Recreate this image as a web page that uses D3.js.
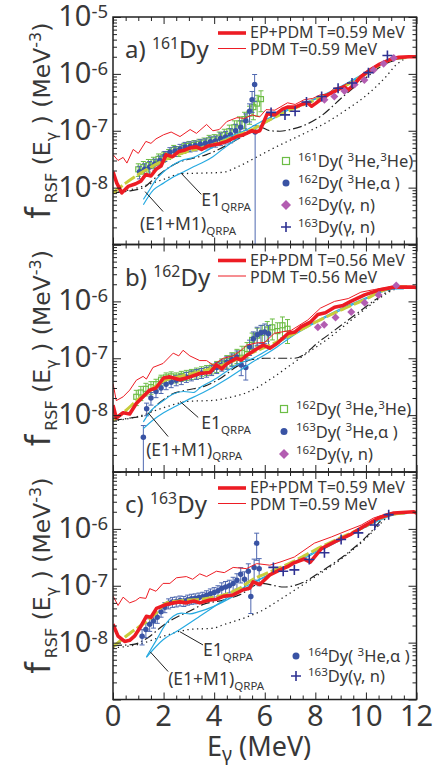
<!DOCTYPE html>
<html>
<head>
<meta charset="utf-8">
<script src="https://cdn.jsdelivr.net/npm/d3@7"></script>
<style>
  body { margin: 0; background: #fff; }
  text { font-family: "Noto Sans", "Open Sans", sans-serif; fill: #383838; }
  text.ytitle { font-family: "DejaVu Sans", sans-serif; }
</style>
</head>
<body>
<script>
// ---- panel a) 161Dy, [E (MeV), f (MeV^-3)] ----
let epA = [[0,1.9e-8],[0.15,1.2e-8],[0.35,8.1e-9],[0.6,1.05e-8],[0.9,1.17e-8],[1.1,1.3e-8],[1.3,1.7e-8],[1.5,1.6e-8],[1.7,2.1e-8],[1.9,2.4e-8],[2.1,3.8e-8],[2.35,3.5e-8],[2.6,4.3e-8],[2.85,4.6e-8],[3.05,5.0e-8],[3.3,5.2e-8],[3.5,4.7e-8],[3.75,5.4e-8],[3.95,5.6e-8],[4.2,5.9e-8],[4.5,6.5e-8],[4.7,7.2e-8],[4.9,7.9e-8],[5.1,8.3e-8],[5.3,9.1e-8],[5.5,1.0e-7],[5.65,9.5e-8],[5.8,1.0e-7],[5.95,1.4e-7],[6.1,2.0e-7],[6.4,1.9e-7],[6.7,2.4e-7],[6.9,2.6e-7],[7.2,2.6e-7],[7.5,2.95e-7],[7.7,3.1e-7],[7.85,2.7e-7],[8.0,3.0e-7],[8.2,3.5e-7],[8.5,4.3e-7],[8.8,5.0e-7],[9.0,5.6e-7],[9.15,5.9e-7],[9.3,5.2e-7],[9.5,6.3e-7],[9.8,8.9e-7],[10.1,1.12e-6],[10.5,1.45e-6],[10.8,1.66e-6],[11.0,1.82e-6],[11.3,1.95e-6],[11.7,2.0e-6],[12,2.0e-6]]
let pdmA = [[0,3.8e-8],[0.2,3.0e-8],[0.4,3.4e-8],[0.55,2.7e-8],[0.8,4.7e-8],[1.0,4.0e-8],[1.3,6.5e-8],[1.5,6.0e-8],[1.7,7.2e-8],[2.0,8.5e-8],[2.3,9.5e-8],[2.65,7.9e-8],[3.05,1.05e-7],[3.3,9.0e-8],[3.7,1.29e-7],[3.95,1.0e-7],[4.2,1.05e-7],[4.5,1.45e-7],[4.9,1.7e-7],[5.2,1.65e-7],[5.5,1.9e-7],[5.8,1.75e-7],[6.05,2.35e-7],[6.4,2.3e-7],[6.9,3.1e-7],[7.2,2.9e-7],[7.55,3.5e-7],[7.9,3.7e-7],[8.2,4.3e-7],[8.5,4.4e-7],[8.75,5.6e-7],[9.0,5.9e-7],[9.3,6.9e-7],[9.55,7.2e-7],[9.8,9.5e-7],[10.2,1.25e-6],[10.5,1.5e-6],[11.0,1.85e-6],[11.5,2.0e-6],[12,2.0e-6]]
let e1m1A = [[1.2,6.2e-9],[1.4,8.5e-9],[1.7,1.38e-8],[2.0,1.9e-8],[2.25,2.3e-8],[2.5,2.7e-8],[2.8,3.1e-8],[3.1,3.3e-8],[3.55,4.1e-8],[3.9,5.0e-8],[4.35,6.9e-8],[4.8,8.5e-8],[5.3,1.05e-7],[5.8,1.4e-7],[6.2,1.7e-7],[7.0,2.5e-7],[8.0,3.7e-7],[9.0,6.0e-7],[10.0,1.07e-6],[10.5,1.45e-6],[11.0,1.78e-6],[11.5,1.9e-6]]
let e1A = [[1.2,5.0e-9],[1.6,9.1e-9],[2.0,1.2e-8],[2.4,1.55e-8],[2.8,1.9e-8],[3.2,2.35e-8],[3.6,2.85e-8],[3.95,3.5e-8],[4.35,4.8e-8],[4.75,6.5e-8],[5.15,8.5e-8],[5.55,1.05e-7],[6.0,1.35e-7],[6.5,1.8e-7],[7.0,2.4e-7],[8.0,3.6e-7],[9.0,5.8e-7],[10.0,1.02e-6],[10.5,1.4e-6],[11.0,1.72e-6],[11.5,1.88e-6]]
let fitA = [[0,8.1e-9],[0.5,1.2e-8],[1.0,1.7e-8],[1.5,2.3e-8],[2.0,3.0e-8],[2.5,3.7e-8],[3.0,4.4e-8],[3.5,5.0e-8],[4.0,5.8e-8],[4.5,7.0e-8],[5.0,8.5e-8],[5.5,1.05e-7],[6.0,1.4e-7],[7.0,2.3e-7],[8.0,3.5e-7],[9.0,5.6e-7],[10.0,1.0e-6],[10.5,1.4e-6],[11.0,1.8e-6],[11.6,1.95e-6]]
let dashA = [[0,8.1e-9],[0.6,8.7e-9],[1.2,1.0e-8],[1.6,1.4e-8],[2.1,2.1e-8],[2.6,2.8e-8],[3.05,3.2e-8],[3.7,3.8e-8],[4.3,5.0e-8],[4.9,7.0e-8],[5.4,9.3e-8],[5.8,1.17e-7],[6.2,1.0e-7],[6.6,9.8e-8],[7.0,1.05e-7],[7.4,1.17e-7],[8.2,1.78e-7],[9.1,4.0e-7],[10.05,8.9e-7],[10.7,1.45e-6],[11.1,1.7e-6]]
let dotA = [[0,7.9e-9],[1.0,1.0e-8],[2.0,1.4e-8],[2.7,1.75e-8],[3.5,1.8e-8],[4.3,1.85e-8],[5.0,2.4e-8],[5.6,3.3e-8],[6.25,4.7e-8],[6.9,6.5e-8],[7.5,8.7e-8],[8.5,1.45e-7],[9.2,2.3e-7],[10.1,4.5e-7],[10.8,9.0e-7],[11.2,1.45e-6],[11.5,1.8e-6]]
// [E, f, relative error (up), relative error (down, optional)]
let he3A = [[1.0,2.1e-8,0.25],[1.2,2.3e-8,0.25],[1.4,2.5e-8,0.25],[1.6,2.8e-8,0.22],[1.8,3.2e-8,0.22],[2.0,3.5e-8,0.2],[2.2,3.9e-8,0.2],[2.4,4.6e-8,0.2],[2.6,4.4e-8,0.2],[2.8,5.0e-8,0.2],[3.0,5.4e-8,0.2],[3.2,5.6e-8,0.2],[3.4,5.9e-8,0.2],[3.6,6.2e-8,0.2],[3.8,6.8e-8,0.22],[4.0,7.0e-8,0.22],[4.2,7.6e-8,0.25],[4.4,8.5e-8,0.25],[4.6,9.8e-8,0.28],[4.8,1.15e-7,0.3],[5.0,1.35e-7,0.3],[5.2,1.6e-7,0.32],[5.4,2.0e-7,0.35],[5.55,2.6e-7,0.4],[5.7,3.0e-7,0.4],[5.85,3.6e-7,0.4]]
let alphaA = [[1.05,1.9e-8,0.25],[1.25,2.1e-8,0.25],[1.45,2.3e-8,0.25],[1.65,2.6e-8,0.22],[1.85,3.0e-8,0.2],[2.05,3.6e-8,0.2],[2.25,4.2e-8,0.2],[2.45,4.4e-8,0.2],[2.65,4.8e-8,0.2],[2.85,5.2e-8,0.2],[3.05,5.3e-8,0.2],[3.25,5.5e-8,0.2],[3.45,5.8e-8,0.2],[3.65,6.0e-8,0.2],[3.85,6.4e-8,0.22],[4.05,6.6e-8,0.22],[4.25,7.3e-8,0.25],[4.45,7.8e-8,0.25],[4.65,8.5e-8,0.28],[4.85,1.0e-7,0.3],[5.05,1.15e-7,0.3],[5.25,1.5e-7,0.32],[5.4,2.2e-7,0.35],[5.5,3.5e-7,0.4],[5.6,6.5e-7,0.5],[5.62,9.5e-8,0.3,1.0]]
let gn162A = [[8.36,3.5e-7],[8.75,4.0e-7],[9.15,5.0e-7],[9.55,6.5e-7],[9.94,7.8e-7],[10.3,1.17e-6],[10.7,1.5e-6],[11.1,1.9e-6]]
let gn163A = [[6.25,2.1e-7],[6.8,1.9e-7],[7.2,2.2e-7],[7.65,3.2e-7],[8.25,4.0e-7],[8.9,5.6e-7],[9.45,6.9e-7],[10.1,1.05e-6],[10.85,2.1e-6]]

// ---- panel b) 162Dy ----
let epB = [[0,1.5e-8],[0.13,8.9e-9],[0.4,1.1e-8],[0.66,1.05e-8],[0.92,1.6e-8],[1.19,2.1e-8],[1.45,2.75e-8],[1.7,3.0e-8],[2.0,4.5e-8],[2.25,4.7e-8],[2.64,4.2e-8],[3.04,4.7e-8],[3.43,5.4e-8],[3.83,5.6e-8],[4.09,7.6e-8],[4.3,6.5e-8],[4.49,7.9e-8],[4.88,1.0e-7],[5.07,9.3e-8],[5.28,1.12e-7],[5.6,1.38e-7],[5.94,1.7e-7],[6.2,1.5e-7],[6.47,1.8e-7],[6.93,2.75e-7],[7.2,2.9e-7],[7.45,3.6e-7],[7.8,4.3e-7],[8.1,5.9e-7],[8.4,6.3e-7],[8.76,7.9e-7],[9.1,8.5e-7],[9.4,1.0e-6],[9.95,1.3e-6],[10.5,1.58e-6],[11.1,1.78e-6],[11.9,1.78e-6],[12,1.75e-6]]
let pdmB = [[0,3.6e-8],[0.13,1.8e-8],[0.4,2.1e-8],[0.66,2.75e-8],[0.92,4.1e-8],[1.19,4.8e-8],[1.32,4.3e-8],[1.58,6.9e-8],[1.98,8.1e-8],[2.38,1.23e-7],[2.6,1.1e-7],[2.77,1.38e-7],[3.04,1.1e-7],[3.43,9.1e-8],[3.7,9.1e-8],[3.96,7.6e-8],[4.36,1.0e-7],[4.75,1.1e-7],[5.07,1.38e-7],[5.28,1.7e-7],[5.68,1.86e-7],[6.0,1.9e-7],[6.38,2.75e-7],[7.05,3.1e-7],[7.7,4.7e-7],[8.2,7.6e-7],[8.76,1.0e-6],[9.3,1.12e-6],[9.8,1.45e-6],[10.35,1.62e-6],[11.0,1.8e-6],[12,1.75e-6]]
let e1m1B = [[1.2,7.6e-9],[1.5,1.2e-8],[2.0,1.8e-8],[2.38,2.35e-8],[2.8,2.6e-8],[3.17,2.5e-8],[3.5,3.2e-8],[3.96,4.1e-8],[4.5,5.9e-8],[5.0,8.1e-8],[5.54,1.0e-7],[6.0,1.3e-7],[6.5,1.8e-7],[7.0,2.5e-7],[8.0,4.4e-7],[9.0,7.4e-7],[10.0,1.15e-6],[10.6,1.5e-6],[11.2,1.7e-6],[11.5,1.7e-6]]
let e1B = [[1.2,5.8e-9],[1.6,8.3e-9],[2.0,1.1e-8],[2.5,1.45e-8],[2.9,1.8e-8],[3.4,2.3e-8],[3.96,3.1e-8],[4.5,4.3e-8],[5.0,6.0e-8],[5.5,8.5e-8],[6.07,1.2e-7],[6.5,1.6e-7],[7.0,2.3e-7],[8.0,4.2e-7],[9.0,7.0e-7],[10.0,1.1e-6],[10.6,1.45e-6],[11.2,1.65e-6],[11.5,1.65e-6]]
let fitB = [[0,8.1e-9],[0.5,1.2e-8],[1.0,1.9e-8],[1.5,2.8e-8],[2.0,4.0e-8],[2.5,4.6e-8],[3.0,5.2e-8],[3.5,5.9e-8],[4.0,6.8e-8],[4.5,8.1e-8],[5.0,1.0e-7],[5.5,1.25e-7],[6.0,1.55e-7],[7.0,2.5e-7],[8.0,4.3e-7],[9.0,7.0e-7],[10.0,1.1e-6],[10.6,1.5e-6],[11.2,1.8e-6],[11.7,1.8e-6]]
let dashB = [[0,8.1e-9],[0.7,8.9e-9],[1.3,1.0e-8],[1.8,1.6e-8],[2.3,2.3e-8],[2.9,2.75e-8],[3.6,3.2e-8],[4.3,4.6e-8],[4.9,7.2e-8],[5.5,9.5e-8],[6.0,1.0e-7],[6.5,1.0e-7],[7.17,1.0e-7],[8.24,2.1e-7],[9.43,5.2e-7],[10.5,1.17e-6],[11.1,1.75e-6]]
let dotB = [[0,7.9e-9],[1.0,9.5e-9],[2.0,1.35e-8],[3.0,1.75e-8],[4.0,1.82e-8],[4.5,2.0e-8],[5.3,2.5e-8],[6.3,4.5e-8],[7.0,7.5e-8],[7.7,1.25e-7],[8.5,2.2e-7],[9.4,4.6e-7],[10.3,9.5e-7],[10.9,1.45e-6],[11.3,1.75e-6]]
let he3B = [[0.92,2.1e-8,0.3],[1.1,2.5e-8,0.28],[1.3,2.9e-8,0.25],[1.5,3.1e-8,0.25],[1.7,3.5e-8,0.22],[1.9,4.2e-8,0.2],[2.1,4.6e-8,0.2],[2.3,4.8e-8,0.2],[2.5,4.6e-8,0.2],[2.7,4.9e-8,0.2],[2.9,5.1e-8,0.2],[3.1,5.3e-8,0.2],[3.3,5.6e-8,0.2],[3.5,5.9e-8,0.2],[3.7,6.2e-8,0.2],[3.9,6.6e-8,0.2],[4.1,7.2e-8,0.22],[4.3,8.0e-8,0.22],[4.5,8.9e-8,0.25],[4.7,1.0e-7,0.25],[4.9,1.12e-7,0.28],[5.1,1.25e-7,0.3],[5.3,1.45e-7,0.3],[5.5,2.1e-7,0.32],[5.7,2.5e-7,0.35],[5.9,2.8e-7,0.35],[6.1,3.2e-7,0.38],[6.3,3.5e-7,0.4],[6.5,3.0e-7,0.4],[6.7,3.8e-7,0.4],[6.9,3.3e-7,0.45]]
let alphaB = [[1.2,4.1e-9,0.6,1.0],[1.33,1.3e-8,0.25],[1.5,2.0e-8,0.25],[1.7,2.6e-8,0.22],[1.9,3.0e-8,0.2],[2.1,3.5e-8,0.2],[2.3,3.8e-8,0.2],[2.5,4.1e-8,0.2],[2.7,4.3e-8,0.2],[2.9,4.7e-8,0.2],[3.1,5.0e-8,0.2],[3.3,5.3e-8,0.2],[3.5,5.5e-8,0.2],[3.7,5.8e-8,0.2],[3.9,6.2e-8,0.2],[4.1,6.9e-8,0.22],[4.3,7.6e-8,0.22],[4.5,8.5e-8,0.25],[4.7,9.5e-8,0.25],[4.9,1.05e-7,0.28],[5.07,7.6e-8,0.35],[5.25,6.9e-8,0.4],[5.4,1.6e-7,0.3],[5.55,2.2e-7,0.32],[5.7,2.6e-7,0.35],[5.85,2.8e-7,0.35],[6.0,2.9e-7,0.38],[6.15,2.7e-7,0.4]]
let gn162B = [[8.1,3.5e-7],[8.35,3.9e-7],[8.8,5.2e-7],[9.42,6.5e-7],[9.95,9.5e-7],[10.5,1.3e-6],[11.2,1.9e-6]]

// ---- panel c) 163Dy ----
let epC = [[0,2.1e-8],[0.2,1.3e-8],[0.46,1.05e-8],[0.66,1.1e-8],[0.85,1.3e-8],[1.06,1.8e-8],[1.32,2.9e-8],[1.5,2.8e-8],[1.72,4.0e-8],[2.11,4.7e-8],[2.4,5.0e-8],[2.64,5.2e-8],[2.9,5.0e-8],[3.2,5.4e-8],[3.43,5.0e-8],[3.83,5.6e-8],[4.1,5.8e-8],[4.36,6.5e-8],[4.75,6.9e-8],[5.15,8.5e-8],[5.4,9.0e-8],[5.54,1.17e-7],[5.8,1.05e-7],[6.2,1.55e-7],[6.6,1.9e-7],[6.93,2.2e-7],[7.13,2.5e-7],[7.56,2.95e-7],[7.8,2.6e-7],[8.24,4.5e-7],[8.76,5.9e-7],[9.42,8.1e-7],[9.94,1.12e-6],[10.5,1.55e-6],[11.1,1.9e-6],[11.9,2.0e-6],[12,1.9e-6]]
let pdmC = [[0,6.6e-8],[0.2,4.5e-8],[0.4,6.3e-8],[0.66,5.0e-8],[0.9,5.5e-8],[1.06,6.2e-8],[1.3,6.0e-8],[1.45,8.9e-8],[1.7,8.0e-8],[1.98,1.1e-7],[2.25,1.1e-7],[2.51,1.38e-7],[2.9,1.45e-7],[3.15,1.3e-7],[3.43,1.62e-7],[3.7,1.45e-7],[4.09,1.8e-7],[4.4,1.7e-7],[4.75,2.1e-7],[5.28,2.0e-7],[5.68,2.45e-7],[6.2,2.3e-7],[6.6,2.6e-7],[7.17,3.2e-7],[7.96,5.6e-7],[8.63,7.2e-7],[9.3,9.5e-7],[9.82,1.17e-6],[10.3,1.55e-6],[10.9,1.9e-6],[11.5,2.0e-6],[12,1.95e-6]]
let e1m1C = [[1.32,5.6e-9],[1.72,1.12e-8],[2.11,2.2e-8],[2.38,2.9e-8],[2.7,3.3e-8],[3.04,3.2e-8],[3.4,3.5e-8],[3.96,4.3e-8],[4.75,6.5e-8],[5.54,1.1e-7],[6.2,1.6e-7],[7.0,2.4e-7],[8.0,4.0e-7],[9.0,6.5e-7],[10.0,1.1e-6],[10.6,1.5e-6],[11.2,1.85e-6],[11.6,1.9e-6]]
let e1C = [[1.32,5.5e-9],[1.98,1.12e-8],[2.64,1.7e-8],[3.43,2.9e-8],[4.22,5.0e-8],[5.0,8.5e-8],[5.8,1.3e-7],[6.86,2.1e-7],[8.0,3.8e-7],[9.0,6.3e-7],[10.0,1.08e-6],[10.6,1.45e-6],[11.2,1.8e-6],[11.6,1.85e-6]]
let fitC = [[0,8.5e-9],[0.66,1.45e-8],[1.32,2.35e-8],[1.7,3.3e-8],[2.11,5.0e-8],[2.6,5.4e-8],[3.0,5.6e-8],[3.5,5.8e-8],[4.0,6.3e-8],[4.5,7.2e-8],[5.0,9.0e-8],[5.54,1.3e-7],[6.0,1.6e-7],[7.0,2.5e-7],[8.3,5.0e-7],[9.0,7.0e-7],[10.0,1.12e-6],[10.5,1.5e-6],[11.0,1.78e-6],[11.6,1.9e-6]]
let dashC = [[0,8.9e-9],[0.8,9.3e-9],[1.32,1.17e-8],[1.98,2.0e-8],[2.38,2.6e-8],[3.04,3.6e-8],[3.56,4.7e-8],[4.36,5.6e-8],[5.0,6.9e-8],[5.86,1.1e-7],[6.77,9.5e-8],[7.56,1.17e-7],[8.24,1.8e-7],[9.15,3.4e-7],[10.1,7.9e-7],[10.7,1.55e-6],[11.0,1.9e-6]]
let dotC = [[0,8.1e-9],[1.0,9.3e-9],[2.0,1.3e-8],[3.0,1.7e-8],[4.0,1.8e-8],[4.28,2.0e-8],[5.07,2.6e-8],[5.86,3.6e-8],[6.65,5.9e-8],[7.45,1.0e-7],[8.24,1.7e-7],[9.0,2.9e-7],[10.0,6.8e-7],[10.7,1.4e-6],[11.0,1.85e-6]]
let alphaC = [[1.15,1.3e-8,0.3],[1.3,1.7e-8,0.28],[1.45,2.1e-8,0.25],[1.6,2.4e-8,0.25],[1.75,2.8e-8,0.22],[1.9,3.5e-8,0.2],[2.05,4.2e-8,0.2],[2.2,4.9e-8,0.2],[2.35,5.2e-8,0.2],[2.5,5.3e-8,0.2],[2.65,5.5e-8,0.2],[2.8,5.4e-8,0.2],[2.95,5.7e-8,0.2],[3.1,5.9e-8,0.2],[3.25,6.0e-8,0.2],[3.4,6.2e-8,0.2],[3.55,6.4e-8,0.2],[3.7,6.8e-8,0.2],[3.85,7.2e-8,0.22],[4.0,7.6e-8,0.22],[4.15,8.2e-8,0.22],[4.3,9.0e-8,0.25],[4.45,9.5e-8,0.25],[4.6,1.0e-7,0.25],[4.75,1.1e-7,0.28],[4.9,1.25e-7,0.3],[5.05,1.6e-7,0.3],[5.2,1.3e-7,0.35],[5.35,1.8e-7,0.35],[5.45,6.5e-8,0.5],[5.58,2.1e-7,0.4],[5.68,5.6e-7,0.5],[5.78,2.0e-7,0.5]]
let gn163C = [[6.34,2.1e-7],[6.73,1.8e-7],[7.17,1.9e-7],[7.76,2.9e-7],[8.36,3.8e-7],[9.02,6.5e-7],[9.7,8.5e-7],[10.35,1.17e-6],[10.9,1.78e-6]]

// tick labels
let xTickLabels = [0, 2, 4, 6, 8, 10, 12]
let yTickLabelsA = [1e-5, 1e-6, 1e-7, 1e-8]
let yTickLabelsBC = [1e-6, 1e-7, 1e-8]

let width = 442
let height = 767
let x0 = 113
let x1 = 416.5
let panelH = 227.5

let red = '#ed1c24'
let cyan = '#27aae1'
let olive = '#c8cc3c'
let green = '#6cbd45'
let blue = '#3953a4'
let magenta = '#b35db1'
let navy = '#2e3192'

let xScale = d3.scaleLinear().domain([0, 12]).range([x0, x1])

let svg = d3.select('body').append('svg')
    .attr('width', width)
    .attr('height', height)

// text with super/subscripts: parts = [[text, 'n' | 'sup' | 'sub' | 'big']]
let richText = (t, parts, size, o = {}) => {
    let ratio = o.ratio || 0.68
    let up = o.up || -0.4
    let down = o.down || 0.28
    let shift = 0
    parts.forEach(([s, k, dx]) => {
        let target = k === 'sup' ? up * size : k === 'sub' ? down * size : 0
        let fs = k === 'sup' || k === 'sub' ? size * ratio : k === 'big' ? size * 1.4 : size
        t.append('tspan')
            .attr('dx', dx || null)
            .attr('dy', target - shift)
            .style('font-size', fs + 'px')
            .text(s)
        shift = target
    })
    return t
}

let isoParts = (mass, rest) => [[mass, 'sup'], ['Dy(', 'n']].concat(rest)

let legend3He = m => isoParts(m, [[' ', 'n'], ['3', 'sup'], ['He,', 'n'], ['3', 'sup'], ['He)', 'n']])
let legendAlpha = m => isoParts(m, [[' ', 'n'], ['3', 'sup'], ['He,α )', 'n']])
let legendGn = m => isoParts(m, [['γ, n)', 'n']])

let panels = [
    {
        top: 17, tag: 'a) ', mass: '161', temp: '0.59',
        ep: epA, pdm: pdmA, e1m1: e1m1A, e1: e1A, fit: fitA, dash: dashA, dot: dotA,
        he3: he3A, alpha: alphaA, gn162: gn162A, gn163: gn163A, yLabels: yTickLabelsA,
        legend: [['square', legend3He('161')], ['circle', legendAlpha('162')], ['diamond', legendGn('162')], ['plus', legendGn('163')]],
        legendX: 286, legendY: 150, legendStep: 22,
        e1Line: [[3.49, 7.6e-9], [2.69, 1.8e-8]], e1Text: [3.49, 4.7e-9],
        e1m1Line: [[1.98, 3.8e-9], [1.27, 8.5e-9]], e1m1Text: [1.07, 1.8e-9]
    },
    {
        top: 244.5, tag: 'b) ', mass: '162', temp: '0.56',
        ep: epB, pdm: pdmB, e1m1: e1m1B, e1: e1B, fit: fitB, dash: dashB, dot: dotB,
        he3: he3B, alpha: alphaB, gn162: gn162B, gn163: [], yLabels: yTickLabelsBC,
        legend: [['square', legend3He('162')], ['circle', legendAlpha('163')], ['diamond', legendGn('162')]],
        legendX: 284, legendY: 170.5, legendStep: 22.5,
        e1Line: [[3.37, 9.1e-9], [2.65, 1.74e-8]], e1Text: [3.49, 5.6e-9],
        e1m1Line: [[2.18, 4.2e-9], [1.39, 1.1e-8]], e1m1Text: [1.31, 1.95e-9]
    },
    {
        top: 472, tag: 'c) ', mass: '163', temp: '0.59',
        ep: epC, pdm: pdmC, e1m1: e1m1C, e1: e1C, fit: fitC, dash: dashC, dot: dotC,
        he3: [], alpha: alphaC, gn162: [], gn163: gn163C, yLabels: yTickLabelsBC,
        legend: [['circle', legendAlpha('164')], ['plus', legendGn('163')]],
        legendX: 296, legendY: 190, legendStep: 20,
        e1Line: [[3.56, 9.1e-9], [2.65, 1.55e-8]], e1Text: [3.56, 5.9e-9],
        e1m1Line: [[2.18, 3.1e-9], [1.47, 6.9e-9]], e1m1Text: [2.18, 1.8e-9]
    }
]

let drawSymbol = (g, shape, x, y, s) => {
    if (shape === 'square') {
        g.append('rect').attr('x', x - s / 2).attr('y', y - s / 2).attr('width', s).attr('height', s)
            .attr('fill', 'none').attr('stroke', green).attr('stroke-width', 1.2)
    } else if (shape === 'circle') {
        g.append('circle').attr('cx', x).attr('cy', y).attr('r', s / 2).attr('fill', blue)
    } else if (shape === 'diamond') {
        let h = s / 2 + 0.5
        g.append('path').attr('d', `M${x},${y - h}L${x + h},${y}L${x},${y + h}L${x - h},${y}Z`).attr('fill', magenta)
    } else {
        g.append('path').attr('d', `M${x - s / 2},${y}H${x + s / 2}M${x},${y - s / 2}V${y + s / 2}`)
            .attr('stroke', navy).attr('stroke-width', 1.6)
    }
}

let drawOslo = (plot, y, data, color, shape) => {
    let pts = plot.append('g').selectAll('g').data(data).enter().append('g')
    let hi = d => y(d[1] * (1 + d[2]))
    let lo = d => y(Math.max(d[1] * (1 - (d[3] === undefined ? d[2] : d[3])), 1e-10))
    pts.append('path')
        .attr('d', d => {
            let x = xScale(d[0])
            return `M${x},${hi(d)}V${lo(d)}M${x - 2.5},${hi(d)}H${x + 2.5}M${x - 2.5},${lo(d)}H${x + 2.5}`
        })
        .attr('stroke', color)
        .attr('stroke-width', 1)
        .attr('fill', 'none')
    pts.each(function (d) {
        drawSymbol(d3.select(this), shape, xScale(d[0]), y(d[1]), shape === 'square' ? 5 : 5.5)
    })
}

let drawAxes = (g, y, top, bottom) => {
    let majorX = d3.range(0, 12.01, 2)
    let minorX = d3.range(0.5, 12, 0.5).filter(v => v % 2 !== 0)
    let logTicks = y.ticks()
    let majorY = logTicks.filter(v => Math.abs(Math.log10(v) - Math.round(Math.log10(v))) < 1e-6)
    let minorY = logTicks.filter(v => !majorY.includes(v))
    let clean = s => {
        s.select('.domain').remove()
        s.selectAll('line').attr('stroke', '#222').attr('stroke-width', 1)
    }
    let axes = [
        [d3.axisBottom, `translate(0,${top})`, xScale, majorX, 7],
        [d3.axisBottom, `translate(0,${top})`, xScale, minorX, 4],
        [d3.axisTop, `translate(0,${bottom})`, xScale, majorX, 7],
        [d3.axisTop, `translate(0,${bottom})`, xScale, minorX, 4],
        [d3.axisRight, `translate(${x0},0)`, y, majorY, 8],
        [d3.axisRight, `translate(${x0},0)`, y, minorY, 4],
        [d3.axisLeft, `translate(${x1},0)`, y, majorY, 8],
        [d3.axisLeft, `translate(${x1},0)`, y, minorY, 4]
    ]
    axes.forEach(([fn, tr, sc, vals, size]) => {
        g.append('g')
            .attr('transform', tr)
            .call(fn(sc).tickValues(vals).tickSize(size).tickFormat(''))
            .call(clean)
    })
    g.append('rect')
        .attr('x', x0).attr('y', top)
        .attr('width', x1 - x0).attr('height', bottom - top)
        .attr('fill', 'none').attr('stroke', '#222').attr('stroke-width', 1.5)
}

let drawPanel = (p, i) => {
    let top = p.top
    let bottom = top + panelH
    let y = d3.scaleLog().domain([1e-9, 1e-5]).range([bottom, top])
    let g = svg.append('g')

    svg.append('clipPath').attr('id', 'clip' + i)
        .append('rect').attr('x', x0).attr('y', top).attr('width', x1 - x0).attr('height', panelH)
    let plot = g.append('g').attr('clip-path', `url(#clip${i})`)

    let smooth = d3.line().curve(d3.curveMonotoneX).x(d => xScale(d[0])).y(d => y(d[1]))
    let jagged = d3.line().x(d => xScale(d[0])).y(d => y(d[1]))

    let curve = (data, gen, color, w, dash) => {
        plot.append('path')
            .datum(data)
            .attr('d', gen)
            .attr('fill', 'none')
            .attr('stroke', color)
            .attr('stroke-width', w)
            .attr('stroke-linejoin', 'round')
            .attr('stroke-dasharray', dash || null)
    }

    curve(p.dot, smooth, '#222', 1.3, '1.3,3.5')
    curve(p.dash, smooth, '#222', 1.2, '9,3,1.5,3')

    drawOslo(plot, y, p.he3, green, 'square')
    drawOslo(plot, y, p.alpha, '#4f68b0', 'circle')

    curve(p.e1, smooth, cyan, 1.2)
    curve(p.e1m1, smooth, cyan, 1.2)
    curve(p.fit, smooth, olive, 3, '12,3')
    curve(p.pdm, jagged, red, 1)
    curve(p.ep, jagged, red, 3.6)

    p.gn162.forEach(d => drawSymbol(plot, 'diamond', xScale(d[0]), y(d[1]), 7))
    p.gn163.forEach(d => drawSymbol(plot, 'plus', xScale(d[0]), y(d[1]), 10))

    // QRPA annotations
    let ann = (line, pos, parts) => {
        g.append('line')
            .attr('x1', xScale(line[0][0])).attr('y1', y(line[0][1]))
            .attr('x2', xScale(line[1][0])).attr('y2', y(line[1][1]))
            .attr('stroke', '#222').attr('stroke-width', 1)
        richText(g.append('text').attr('x', xScale(pos[0])).attr('y', y(pos[1])), parts, 17.5, { ratio: 0.66 })
    }
    ann(p.e1Line, p.e1Text, [['E1', 'n'], ['QRPA', 'sub']])
    ann(p.e1m1Line, p.e1m1Text, [['(E1+M1)', 'n'], ['QRPA', 'sub']])

    // panel tag
    richText(g.append('text').attr('x', 125).attr('y', top + 41), [[p.tag, 'n'], [p.mass, 'sup'], ['Dy', 'n']], 24, { ratio: 0.66, up: -0.36 })

    // model legend
    g.append('line').attr('x1', 218).attr('x2', 246).attr('y1', top + 16).attr('y2', top + 16)
        .attr('stroke', red).attr('stroke-width', 3.6)
    g.append('text').attr('x', 250).attr('y', top + 21).style('font-size', '16px')
        .text(`EP+PDM T=${p.temp} MeV`)
    g.append('line').attr('x1', 218).attr('x2', 246).attr('y1', top + 31.5).attr('y2', top + 31.5)
        .attr('stroke', red).attr('stroke-width', 1)
    g.append('text').attr('x', 250).attr('y', top + 38).style('font-size', '16px')
        .text(`PDM T=${p.temp} MeV`)

    // data legend
    p.legend.forEach(([shape, parts], k) => {
        let by = top + p.legendY + k * p.legendStep
        drawSymbol(g, shape, p.legendX, by - 6, shape === 'plus' ? 10 : shape === 'diamond' ? 9 : 7)
        richText(g.append('text').attr('x', p.legendX + 12).attr('y', by), parts, 16.5, { ratio: 0.7, up: -0.38 })
    })

    drawAxes(g, y, top, bottom)

    // y tick labels
    p.yLabels.forEach(v => {
        let t = g.append('text')
            .attr('x', 108)
            .attr('y', y(v) + 9)
            .attr('text-anchor', 'end')
        richText(t, [['10', 'n'], [String(Math.round(Math.log10(v))), 'sup']], 29, { ratio: 0.64, up: -0.28 })
    })

    // y title
    let yt = g.append('text')
        .attr('class', 'ytitle')
        .attr('transform', `translate(50,${top + panelH / 2 - 10}) rotate(-90)`)
        .attr('text-anchor', 'middle')
    richText(yt, [['f', 'big'], ['RSF', 'sub', 4], [' (E', 'n'], ['γ', 'sub'], [' ) (MeV', 'n'], ['-3', 'sup'], [')', 'n']], 23.5, { ratio: 0.68, up: -0.38, down: 0.3 })
}

panels.forEach((p, i) => drawPanel(p, i))

// x tick labels and title
svg.append('g')
    .selectAll('text')
    .data(xTickLabels)
    .enter()
    .append('text')
    .attr('x', d => xScale(d))
    .attr('y', 726)
    .attr('text-anchor', 'middle')
    .style('font-size', '29px')
    .text(d => d)

richText(svg.append('text').attr('x', 207).attr('y', 756), [['E', 'n'], ['γ', 'sub'], [' (MeV)', 'n']], 27, { ratio: 0.72, down: 0.18 })
</script>
</body>
</html>
